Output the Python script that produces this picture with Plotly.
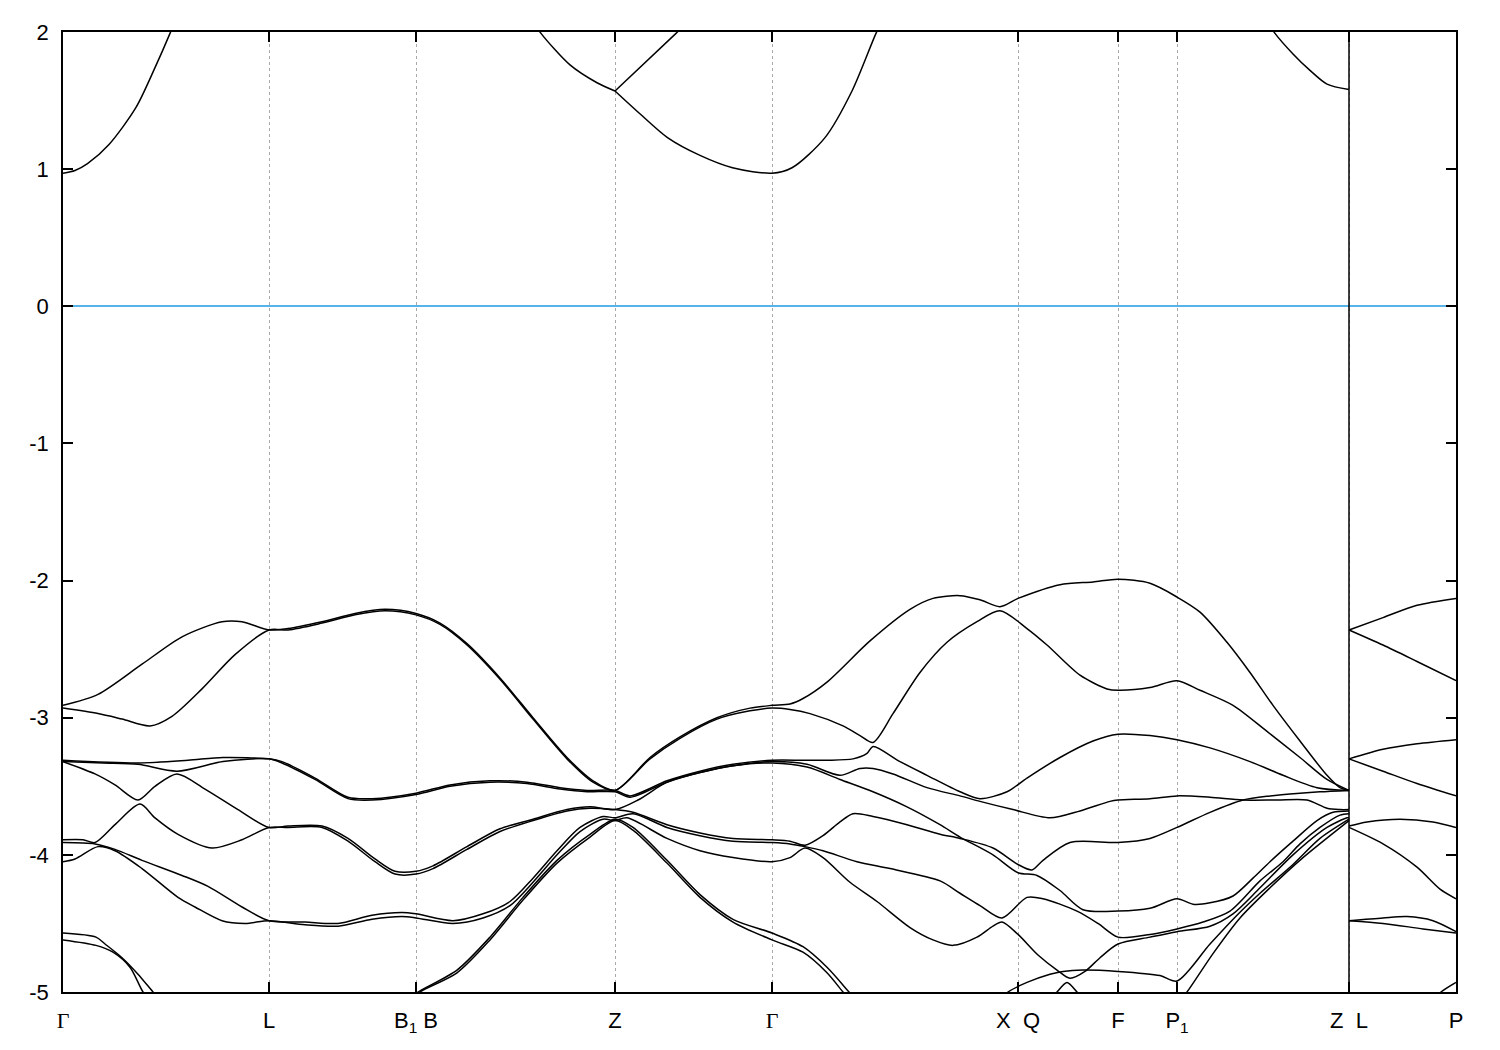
import plotly.graph_objects as go

# ---- high-symmetry path (k positions along the path, arbitrary units) ----
kpt_pos = [0, 206, 353, 552, 709, 955, 1055, 1114, 1286, 1393]
kpt_labels = ['<span style="font-family:Liberation Serif">Γ</span>', 'L', 'B<sub>1</sub>&nbsp;B', 'Z',
              '<span style="font-family:Liberation Serif">Γ</span>', 'X&nbsp;&nbsp;Q', 'F', 'P<sub>1</sub>',
              'Z&nbsp;&nbsp;L', 'P']
ytick_vals = [2, 1, 0, -1, -2, -3, -4, -5]
ytick_text = ['2', '1', '0', '-1', '-2', '-3', '-4', '-5']
jump_index = 8  # Z|L discontinuity

# ---- conduction bands ----
c1_k = [0, 12, 24.5, 46, 73, 92, 107, 112]
c1_e = [0.97, 0.99, 1.04, 1.18, 1.45, 1.74, 1.99, 2.08]
c2_k = [470, 478, 507, 534, 552]
c2_e = [2.08, 1.99, 1.76, 1.63, 1.57]
c3_k = [552, 613, 620]
c3_e = [1.57, 1.99, 2.04]
c4_k = [552, 577.5, 604.5, 637, 669.5, 709, 729, 762, 789, 813, 818]
c4_e = [1.57, 1.40, 1.23, 1.10, 1.01, 0.97, 1.01, 1.23, 1.57, 1.99, 2.06]
c5_k = [1205, 1212, 1230, 1247, 1264, 1286]
c5_e = [2.07, 1.99, 1.84, 1.72, 1.62, 1.58]

# ---- valence bands, Gamma -> L -> B -> Z -> Gamma -> X -> F -> P1 -> Z ----
va_k = [0, 35, 79, 119, 159, 179, 206, 225, 259, 292, 322, 353, 377, 404, 437, 470, 504, 530, 552,
        587, 617, 654, 687, 709, 727, 740, 764, 807, 847, 870, 897, 917, 937, 955, 997, 1030, 1055,
        1087, 1114, 1137, 1164, 1187, 1210, 1237, 1264, 1277, 1286]
va_e = [-2.91, -2.83, -2.61, -2.41, -2.30, -2.30, -2.36, -2.35, -2.30, -2.24, -2.21, -2.24, -2.31, -2.46,
        -2.71, -3.00, -3.29, -3.46, -3.53, -3.29, -3.14, -3.00, -2.93, -2.91, -2.90, -2.86, -2.74, -2.44,
        -2.21, -2.13, -2.11, -2.14, -2.19, -2.13, -2.03, -2.01, -1.99, -2.02, -2.12, -2.23, -2.45, -2.67,
        -2.91, -3.17, -3.42, -3.51, -3.53]

vb_k = [0, 35, 59, 87, 109, 139, 172, 206, 225, 259, 292, 322, 353, 377, 404, 437, 470, 504, 530, 552,
        587, 617, 654, 687, 709, 727, 747, 780, 797, 810, 830, 857, 884, 914, 937, 964, 984, 1017, 1044,
        1055, 1087, 1114, 1137, 1170, 1204, 1237, 1264, 1286]
vb_e = [-2.93, -2.97, -3.01, -3.06, -2.99, -2.79, -2.54, -2.36, -2.36, -2.31, -2.25, -2.22, -2.25, -2.32,
        -2.47, -2.72, -3.01, -3.30, -3.47, -3.53, -3.30, -3.15, -3.01, -2.95, -2.93, -2.94, -2.97, -3.06,
        -3.13, -3.18, -2.97, -2.67, -2.45, -2.30, -2.22, -2.35, -2.47, -2.69, -2.79, -2.80, -2.78, -2.73,
        -2.80, -2.91, -3.10, -3.29, -3.45, -3.53]

vc_k = [0, 75, 125, 160, 206, 219, 252, 285, 309, 353, 387, 427, 464, 497, 524, 552, 567, 604, 637, 670,
        709, 740, 764, 790, 804, 810, 837, 864, 897, 917, 944, 964, 997, 1030, 1055, 1087, 1114, 1147,
        1187, 1220, 1254, 1286]
vc_e = [-3.31, -3.33, -3.31, -3.29, -3.30, -3.32, -3.44, -3.58, -3.59, -3.55, -3.49, -3.46, -3.47, -3.51,
        -3.53, -3.53, -3.57, -3.46, -3.39, -3.34, -3.31, -3.31, -3.31, -3.30, -3.26, -3.21, -3.32, -3.42,
        -3.54, -3.59, -3.54, -3.44, -3.29, -3.17, -3.12, -3.13, -3.16, -3.22, -3.32, -3.42, -3.51, -3.53]

vd_k = [0, 40, 75, 114, 160, 206, 219, 252, 285, 309, 353, 387, 427, 464, 497, 524, 552, 567, 604, 637,
        670, 709, 744, 777, 797, 810, 830, 864, 897, 917, 950, 987, 1017, 1047, 1055, 1087, 1114, 1147,
        1180, 1214, 1244, 1264, 1277, 1286]
vd_e = [-3.32, -3.33, -3.34, -3.39, -3.32, -3.30, -3.33, -3.45, -3.59, -3.60, -3.56, -3.50, -3.47, -3.48,
        -3.52, -3.54, -3.54, -3.58, -3.47, -3.40, -3.35, -3.32, -3.34, -3.42, -3.37, -3.37, -3.41, -3.51,
        -3.57, -3.61, -3.67, -3.73, -3.68, -3.61, -3.60, -3.59, -3.57, -3.58, -3.60, -3.60, -3.60, -3.66,
        -3.67, -3.67]

ve_k = [0, 32, 52, 75, 92, 114, 142, 175, 206, 225, 259, 285, 312, 332, 353, 370, 404, 437, 470, 504,
        527, 552, 575, 604, 637, 670, 709, 744, 777, 810, 844, 877, 897, 930, 955, 974, 997, 1020, 1055,
        1087, 1114, 1130, 1147, 1170, 1190, 1207, 1230, 1254, 1270, 1286]
ve_e = [-3.32, -3.41, -3.49, -3.60, -3.50, -3.41, -3.52, -3.67, -3.80, -3.79, -3.79, -3.88, -4.03, -4.12,
        -4.12, -4.08, -3.94, -3.81, -3.74, -3.67, -3.65, -3.67, -3.60, -3.47, -3.40, -3.35, -3.33, -3.36,
        -3.45, -3.54, -3.65, -3.78, -3.87, -4.00, -4.13, -4.15, -4.26, -4.40, -4.41, -4.39, -4.32, -4.36,
        -4.35, -4.30, -4.17, -4.05, -3.90, -3.75, -3.69, -3.68]

vf_k = [0, 20, 32, 52, 77, 92, 115, 149, 179, 206, 225, 259, 285, 312, 332, 353, 370, 404, 437, 470,
        504, 527, 552, 570, 604, 637, 670, 709, 727, 742, 760, 777, 790, 810, 844, 877, 897, 930, 955,
        969, 980, 1007, 1055, 1087, 1114, 1147, 1180, 1207, 1237, 1257, 1286]
vf_e = [-3.89, -3.89, -3.91, -3.78, -3.63, -3.73, -3.85, -3.95, -3.89, -3.80, -3.80, -3.80, -3.90, -4.05,
        -4.14, -4.14, -4.10, -3.96, -3.83, -3.75, -3.68, -3.66, -3.67, -3.69, -3.78, -3.84, -3.88, -3.89,
        -3.90, -3.93, -3.86, -3.76, -3.70, -3.72, -3.78, -3.85, -3.88, -3.95, -4.07, -4.11, -4.04, -3.91,
        -3.91, -3.88, -3.80, -3.69, -3.60, -3.57, -3.55, -3.54, -3.53]

vg_k = [0, 32, 52, 79, 119, 145, 179, 206, 242, 275, 309, 339, 353, 390, 420, 447, 470, 494, 517, 540,
        552, 570, 604, 637, 670, 709, 727, 742, 760, 794, 827, 877, 897, 917, 939, 964, 980, 1014, 1035,
        1055, 1087, 1114, 1140, 1167, 1197, 1220, 1237, 1257, 1277, 1286]
vg_e = [-3.91, -3.92, -3.96, -4.04, -4.15, -4.23, -4.38, -4.48, -4.49, -4.50, -4.44, -4.42, -4.43, -4.48,
        -4.43, -4.34, -4.17, -3.97, -3.80, -3.72, -3.73, -3.70, -3.80, -3.86, -3.90, -3.91, -3.92, -3.94,
        -3.97, -4.05, -4.10, -4.19, -4.28, -4.37, -4.46, -4.31, -4.32, -4.41, -4.50, -4.60, -4.58, -4.54,
        -4.49, -4.41, -4.19, -4.05, -3.92, -3.80, -3.71, -3.70]

vh_k = [0, 12, 35, 52, 79, 115, 132, 159, 182, 206, 242, 275, 309, 339, 353, 390, 420, 447, 470, 494,
        517, 540, 552, 564, 604, 637, 670, 709, 727, 742, 760, 787, 814, 847, 870, 890, 914, 930, 939,
        955, 975, 994, 1007, 1022, 1037, 1055, 1087, 1114, 1147, 1170, 1197, 1230, 1264, 1284, 1286]
vh_e = [-4.05, -4.03, -3.94, -3.97, -4.10, -4.31, -4.38, -4.48, -4.50, -4.48, -4.51, -4.52, -4.47, -4.45,
        -4.46, -4.50, -4.46, -4.37, -4.20, -4.00, -3.83, -3.74, -3.75, -3.73, -3.88, -3.97, -4.02, -4.05,
        -4.02, -3.95, -4.02, -4.20, -4.34, -4.53, -4.62, -4.66, -4.60, -4.52, -4.49, -4.58, -4.73, -4.84,
        -4.90, -4.85, -4.75, -4.65, -4.60, -4.56, -4.52, -4.43, -4.24, -4.00, -3.80, -3.73, -3.73]

vi_k = [0, 33, 42, 59, 75, 90, 96, None, 348, 355, 394, 427, 460, 494, 527, 552, 570, 604, 637, 670,
        709, 740, 764, 786, 792, None, 938, 945, 964, 987, 1000, 1020, 1055, 1097, 1114, 1147, 1174,
        1197, 1230, 1257, 1286]
vi_e = [-4.57, -4.60, -4.65, -4.75, -4.87, -5.0, -5.05, None, -5.04, -5.0, -4.84, -4.60, -4.31, -4.04,
        -3.85, -3.74, -3.80, -4.04, -4.29, -4.47, -4.57, -4.67, -4.82, -5.0, -5.05, None, -5.05, -5.0,
        -4.93, -4.87, -4.85, -4.84, -4.85, -4.88, -4.92, -4.65, -4.44, -4.28, -4.07, -3.88, -3.74]

vj_k = [0, 33, 50, 67, 80, 86, None, 350, 357, 394, 427, 460, 494, 527, 552, 570, 604, 637, 670, 709,
        740, 764, 780, 786, None, 1118, 1124, 1150, 1177, 1207, 1240, 1286]
vj_e = [-4.62, -4.66, -4.71, -4.82, -5.0, -5.05, None, -5.05, -5.0, -4.86, -4.62, -4.33, -4.06, -3.87,
        -3.75, -3.82, -4.06, -4.31, -4.49, -4.62, -4.71, -4.86, -5.0, -5.05, None, -5.05, -5.0, -4.72,
        -4.46, -4.24, -4.02, -3.75]

vk_k = [985, 994, 1004, 1014, 1023]
vk_e = [-5.08, -5.0, -4.93, -5.0, -5.08]

# ---- L -> P segment (after the Z|L jump) ----
r1_k = [1286, 1320, 1354, 1393]
r1_e = [-2.36, -2.27, -2.18, -2.13]
r2_k = [1286, 1320, 1354, 1393]
r2_e = [-2.36, -2.47, -2.59, -2.73]
r3_k = [1286, 1320, 1354, 1393]
r3_e = [-3.30, -3.23, -3.19, -3.16]
r4_k = [1286, 1320, 1354, 1393]
r4_e = [-3.30, -3.39, -3.48, -3.57]
r5_k = [1286, 1304, 1337, 1370, 1393]
r5_e = [-3.79, -3.76, -3.74, -3.76, -3.80]
r6_k = [1286, 1320, 1354, 1377, 1393]
r6_e = [-3.80, -3.92, -4.09, -4.25, -4.32]
r7_k = [1286, 1320, 1344, 1370, 1393]
r7_e = [-4.48, -4.46, -4.45, -4.48, -4.56]
r8_k = [1286, 1320, 1360, 1393]
r8_e = [-4.48, -4.50, -4.54, -4.57]
r9_k = [1370, 1378, 1393]
r9_e = [-5.06, -5.0, -4.93]

bands = [
    (c1_k, c1_e), (c2_k, c2_e), (c3_k, c3_e), (c4_k, c4_e), (c5_k, c5_e),
    (va_k, va_e), (vb_k, vb_e), (vc_k, vc_e), (vd_k, vd_e), (ve_k, ve_e),
    (vf_k, vf_e), (vg_k, vg_e), (vh_k, vh_e), (vi_k, vi_e), (vj_k, vj_e), (vk_k, vk_e),
    (r1_k, r1_e), (r2_k, r2_e), (r3_k, r3_e), (r4_k, r4_e), (r5_k, r5_e),
    (r6_k, r6_e), (r7_k, r7_e), (r8_k, r8_e), (r9_k, r9_e),
]

fig = go.Figure()
for ks, es in bands:
    fig.add_trace(go.Scatter(
        x=ks, y=es, mode='lines',
        line=dict(color='black', width=1.5, shape='spline', smoothing=0.8),
        hoverinfo='skip', showlegend=False, connectgaps=False))

# solid vertical line at the Z|L path discontinuity
fig.add_shape(type='line', xref='x', yref='paper',
              x0=kpt_pos[jump_index], x1=kpt_pos[jump_index], y0=0, y1=1,
              line=dict(color='black', width=1.5), layer='above')

fig.update_layout(
    width=1492, height=1042,
    margin=dict(l=55, r=44, t=20, b=58),
    paper_bgcolor='white', plot_bgcolor='white',
    font=dict(family='Liberation Sans, Arial, sans-serif', size=22, color='black'),
    showlegend=False,
)
fig.update_xaxes(
    range=[kpt_pos[0], kpt_pos[-1]],
    tickmode='array', tickvals=kpt_pos, ticktext=kpt_labels,
    ticks='inside', ticklen=10, tickwidth=1.5, tickcolor='black',
    showline=True, linecolor='black', linewidth=1.5, mirror='allticks',
    showgrid=True, gridcolor='#aaaaaa', griddash='dot', gridwidth=1,
    zeroline=False, ticklabelstandoff=8,
)
fig.update_yaxes(
    range=[-5, 2],
    tickmode='array', tickvals=ytick_vals, ticktext=ytick_text,
    ticks='inside', ticklen=10, tickwidth=1.5, tickcolor='black',
    showline=True, linecolor='black', linewidth=1.5, mirror='allticks',
    showgrid=False,
    zeroline=True, zerolinecolor='#56b4e9', zerolinewidth=1.5,
    ticklabelstandoff=8,
)

fig.write_html('out.html')
